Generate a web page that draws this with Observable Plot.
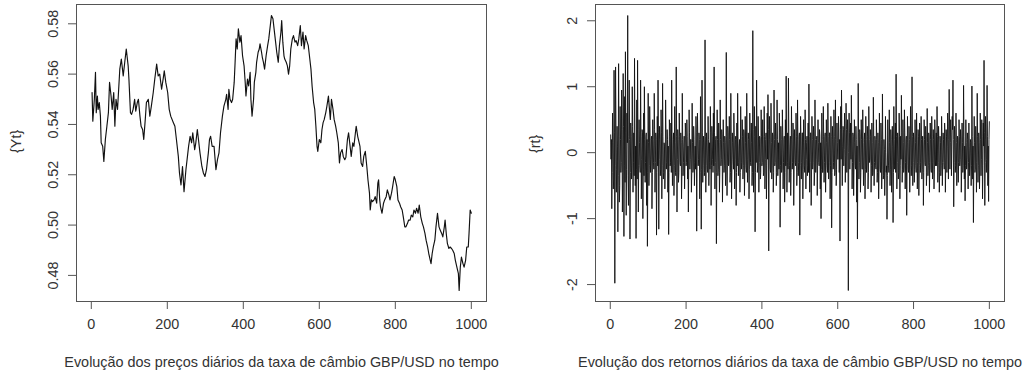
<!DOCTYPE html>
<html><head><meta charset="utf-8">
<script src="https://cdn.jsdelivr.net/npm/d3@7"></script>
<script src="https://cdn.jsdelivr.net/npm/@observablehq/plot@0.6"></script>
<style>
body{margin:0;background:#fff;}
#wrap{display:flex;width:1027px;height:376px;overflow:hidden;}
#wrap svg{display:block;}
</style></head><body><div id="wrap"></div>
<script>
const priceDays = [2,4,8,11,13,16,18,21,24,26,30,33,37,41,45,48,52,55,59,62,65,69,72,75,79,84,88,92,97,99,103,106,110,114,117,121,124,128,131,135,138,142,145,150,154,158,163,167,172,176,180,185,189,192,196,201,205,209,216,220,224,229,232,236,240,244,249,253,256,260,264,267,272,275,279,282,286,291,295,299,303,308,311,314,318,323,328,
332,336,340,345,349,354,356,360,362,365,369,372,376,378,381,384,387,391,394,398,402,405,407,411,414,418,420,423,427,429,433,435,439,442,444,448,450,453,456,460,464,467,471,474,478,481,485,488,492,495,499,501,504,507,509,513,516,519,522,525,529,532,536,539,543,546,550,553,557,560,564,567,571,574,578,581,585,588,591,594,596,600,604,607,610,613,617,620,624,626,629,632,636,639,643,646,650,653,656,660,663,667,670,
674,677,681,684,688,691,695,697,701,703,707,710,714,717,721,725,728,732,734,737,740,744,747,751,754,756,759,761,765,769,772,776,779,783,786,790,793,797,800,804,807,811,814,818,821,825,828,832,835,839,842,846,849,853,856,860,863,867,871,874,878,881,885,888,892,894,897,900,904,907,911,915,918,922,925,929,931,934,937,941,944,948,951,955,958,962,966,968,971,974,978,981,985,988,992,994,997,1000];
const priceValues = [0.5527,0.5413,0.55,0.5607,0.5447,0.5513,0.546,0.5487,0.5433,0.5327,0.5313,0.5253,0.534,0.5393,0.5447,0.5567,0.5513,0.546,0.5527,0.5393,0.55,0.546,0.554,0.562,0.566,0.5593,0.5647,0.57,0.5633,0.558,0.5447,0.544,0.546,0.55,0.5453,0.5487,0.55,0.5433,0.5393,0.538,0.534,0.542,0.5487,0.55,0.5433,0.5473,0.5527,0.558,0.564,0.5593,0.56,0.554,0.558,0.5613,0.5567,0.5527,0.546,0.5433,0.5407,0.5393,0.534,0.5273,0.5207,0.516,0.5233,0.5133,0.522,0.5273,0.5313,0.5353,0.5327,0.5367,0.53,0.5327,0.538,0.534,0.5287,0.5233,0.5207,0.5193,0.522,0.5287,0.534,0.5353,0.5313,0.5313,0.522,
0.526,0.5287,0.5367,0.5433,0.5473,0.55,0.552,0.546,0.554,0.55,0.5487,0.55,0.5567,0.5633,0.574,0.57,0.578,0.5727,0.5753,0.5673,0.5633,0.5567,0.5513,0.558,0.5553,0.5607,0.55,0.5433,0.55,0.5567,0.5607,0.5647,0.5687,0.57,0.572,0.5687,0.5667,0.5647,0.562,0.5673,0.5713,0.574,0.5793,0.5833,0.582,0.578,0.5727,0.5687,0.5647,0.5713,0.5767,0.5813,0.5727,0.5673,0.566,0.5647,0.5633,0.56,0.5633,0.57,0.574,0.5753,0.5727,0.5733,0.5713,0.574,0.5793,0.5713,0.5767,0.57,0.5753,0.5733,0.5713,0.5673,0.562,0.5553,0.5487,0.546,0.5393,0.5313,0.5293,0.534,0.5327,0.538,0.5407,0.542,0.5447,0.5473,0.5513,0.5473,0.542,0.55,0.546,0.542,0.5393,0.5367,0.5327,0.5247,0.5287,0.53,0.5273,0.526,0.527,
0.534,0.5367,0.5313,0.5273,0.5327,0.5313,0.5367,0.5393,0.5353,0.534,0.5313,0.5247,0.5233,0.5273,0.5293,0.5233,0.518,0.5127,0.506,0.51,0.5093,0.51,0.5113,0.5087,0.5167,0.518,0.51,0.5073,0.5047,0.5087,0.51,0.5113,0.514,0.512,0.51,0.5127,0.5153,0.5193,0.518,0.5153,0.51,0.5087,0.5073,0.506,0.5033,0.4993,0.4993,0.5007,0.502,0.502,0.504,0.5033,0.506,0.5047,0.5067,0.5047,0.508,0.5033,0.5007,0.4993,0.4967,0.494,0.4913,0.4887,0.486,0.4847,0.4887,0.4913,0.494,0.4993,0.5047,0.4993,0.498,0.4967,0.4953,0.4993,0.502,0.4967,0.4927,0.4907,0.4913,0.4907,0.49,0.4887,0.486,0.4833,0.4807,0.474,0.4833,0.4873,0.4847,0.4833,0.486,0.4913,0.4913,0.4967,0.506,0.5047];

// Daily returns {rt} (one value per day)
const returnValues = [
0.27,-0.1,0.2,-0.85,-0.3,0.6,0.15,-0.55,-0.4,1.25,0.3,-1.98,-0.2,1.3,0.45,-0.6,-0.25,0.4,0.1,-1.2,-0.35,1.35,0.25,-0.75,-0.5,0.7,0.2,-0.3,-0.15,0.95,0.35,-0.9,-0.3,1.2,0.4,-1.27,-0.2,0.85,-0.45,1.53,0.3,-0.95,-0.25,0.6,0.15,2.08,-0.35,-0.8,0.25,1.1,
0.2,-1.31,-0.3,0.45,0.25,-0.4,-0.2,1.0,0.4,-0.6,-0.15,0.3,-0.35,1.43,0.3,-0.5,0.1,-1.3,-0.25,0.8,-0.4,1.4,0.35,-0.9,-0.2,0.5,0.15,-0.2,-0.3,1.1,0.25,-0.7,-0.1,0.35,0.3,-1.0,-0.25,0.6,-0.35,1.0,0.2,-0.45,-0.15,0.25,0.3,-0.8,0.2,-1.42,-0.3,0.9,
0.15,-0.5,-0.2,0.7,0.3,-0.3,-0.1,0.2,0.25,-0.85,-0.3,0.5,0.2,-0.15,-0.25,0.9,0.35,-0.6,-0.15,0.3,0.2,-1.25,-0.3,0.55,-0.2,1.1,0.3,-1.16,-0.1,0.4,0.2,-0.35,-0.25,0.65,0.3,-0.7,-0.2,1.05,0.25,-0.4,-0.3,0.15,0.1,-0.55,-0.25,0.8,0.3,-0.25,-0.15,0.35,
0.2,-0.6,0.1,-1.24,-0.3,0.5,0.25,-0.2,-0.15,0.45,-0.3,1.1,0.2,-0.5,-0.25,0.2,0.3,-0.65,-0.2,0.7,0.15,-0.3,-0.35,1.3,0.25,-0.9,-0.1,0.35,0.2,-0.45,-0.3,0.6,0.25,-0.15,-0.2,0.3,0.15,-0.7,-0.3,0.9,0.2,-0.35,-0.15,0.1,0.25,-0.55,-0.2,0.45,0.3,-0.2,
-0.15,0.5,0.25,-0.4,0.1,-0.9,-0.2,0.65,0.3,-0.25,-0.1,0.2,0.2,-0.6,-0.3,0.75,0.15,-0.3,-0.25,0.4,0.2,-0.5,-0.15,0.1,-0.25,0.55,0.3,-1.19,-0.2,0.6,0.25,-0.2,-0.1,0.3,0.2,-0.7,-0.3,0.85,0.2,-1.16,-0.25,1.1,0.3,-0.45,-0.2,0.25,0.15,-0.35,-0.3,1.71,
0.25,-0.6,-0.2,0.3,0.15,-0.25,-0.3,0.55,0.2,-0.5,-0.15,0.15,-0.25,0.7,0.3,-0.8,-0.2,0.4,0.25,-0.1,-0.3,0.6,-0.2,1.3,0.3,-0.55,-0.15,0.2,0.25,-1.38,-0.3,0.65,0.2,-0.35,-0.25,0.45,0.15,-0.6,-0.3,0.8,0.2,-0.2,-0.1,0.35,0.25,-0.75,-0.2,0.5,0.15,-0.3,
-0.2,0.25,0.15,-0.5,-0.3,1.52,0.25,-0.65,-0.2,0.4,0.3,-0.2,-0.15,0.55,0.2,-0.45,-0.3,0.9,0.25,-0.7,-0.2,0.3,0.15,-0.1,-0.25,0.6,0.3,-0.55,-0.1,0.2,0.25,-0.8,-0.3,0.45,-0.2,0.9,0.25,-0.35,-0.15,0.1,0.2,-0.6,-0.3,0.7,0.2,-0.25,-0.15,0.5,0.25,-0.4,
-0.2,0.35,0.3,-0.65,-0.25,0.55,0.15,-0.2,-0.3,0.9,0.25,-0.45,-0.1,0.3,0.2,-0.7,-0.25,0.6,0.3,-0.15,-0.2,0.45,0.15,-0.5,-0.3,1.85,0.35,-0.6,-0.2,0.7,0.25,-1.2,-0.3,0.4,-0.15,1.1,0.3,-0.3,-0.2,0.55,0.25,-0.6,-0.15,0.25,0.2,-0.4,-0.3,0.65,0.25,-0.2,
-0.15,0.5,0.2,-0.35,-0.3,0.7,0.25,-0.55,-0.1,0.2,0.3,-0.7,-0.2,0.6,-0.1,0.88,0.35,-1.49,-0.25,0.55,0.2,-0.25,-0.3,0.75,0.15,-0.4,-0.2,0.3,0.25,-0.6,-0.3,0.95,0.2,-0.2,-0.15,0.45,0.25,-0.5,-0.3,0.8,0.2,-0.35,-0.1,0.15,-0.25,0.6,0.3,-1.13,-0.2,0.4,
0.2,-0.3,-0.25,0.65,0.3,-0.55,-0.15,0.2,0.25,-0.75,-0.3,0.5,-0.2,1.16,0.3,-0.6,-0.15,0.3,-0.25,1.13,0.3,-0.45,-0.2,0.1,0.25,-0.65,-0.3,0.7,0.2,-0.25,-0.15,0.45,0.3,-0.8,-0.25,0.35,0.1,-0.15,-0.2,0.6,0.25,-0.5,-0.3,0.8,0.2,-0.35,-0.15,0.25,0.3,-1.25,
-0.2,0.55,0.25,-0.4,-0.15,0.3,0.3,-0.7,-0.25,0.5,0.15,-0.2,-0.3,0.65,0.2,-0.55,-0.1,0.15,0.25,-0.35,-0.2,0.45,-0.3,1.04,0.25,-0.6,-0.15,0.3,0.3,-0.8,-0.25,0.55,0.2,-0.25,-0.15,0.4,0.25,-0.5,-0.3,0.8,0.2,-0.3,-0.1,0.2,0.25,-0.65,-0.2,0.5,0.15,-0.15,
-0.2,0.35,0.25,-0.55,0.15,-1.0,-0.25,0.6,0.2,-0.3,-0.3,0.7,0.25,-0.45,-0.15,0.25,0.3,-0.6,-0.2,0.5,0.15,-0.2,-0.3,0.75,0.25,-0.4,-0.15,0.3,0.3,-0.7,-0.2,0.55,0.25,-1.14,-0.3,0.4,0.2,-0.25,-0.15,0.65,0.25,-0.35,-0.3,0.8,0.2,-0.5,-0.25,0.45,0.15,-0.1,
-0.1,0.55,0.3,-0.3,0.2,-1.34,0.35,0.7,-0.1,0.95,0.3,-0.5,0.1,0.4,0.35,-0.2,0.05,0.6,0.3,-0.45,-0.05,0.75,0.35,-0.3,0.1,0.5,0.3,-2.09,0.0,0.6,0.3,-0.25,0.1,0.45,-0.1,0.87,0.3,-0.55,-0.15,0.3,0.25,-0.65,-0.2,0.5,0.15,-0.2,-0.25,0.4,0.2,-0.75,
0.1,-1.31,-0.2,1.05,0.3,-0.4,-0.15,0.35,0.25,-0.6,-0.3,0.5,0.2,-0.25,-0.25,0.65,0.15,-0.5,-0.2,0.2,0.3,-0.7,-0.25,0.55,0.2,-0.3,-0.15,0.4,0.25,-0.55,-0.3,0.7,0.2,-0.15,-0.1,0.35,0.25,-0.6,-0.2,0.45,0.15,-0.35,-0.3,0.84,0.25,-0.5,-0.15,0.25,0.2,-0.2,
-0.25,0.5,0.2,-0.45,-0.3,0.3,0.15,-0.7,-0.25,0.6,0.1,-0.25,-0.3,0.45,0.2,-0.55,-0.25,0.89,0.1,-0.4,-0.35,0.2,0.05,-0.65,-0.3,0.55,0.0,-0.3,-0.2,-1.01,-0.35,0.5,0.1,-0.2,-0.3,0.65,0.15,-0.5,-0.25,0.35,0.2,-0.6,-0.2,0.4,0.1,-1.06,-0.3,0.7,0.2,-0.25,
-0.2,0.45,-0.3,1.19,0.25,-0.55,-0.15,0.3,0.2,-0.4,-0.3,0.6,0.25,-0.7,-0.2,0.25,-0.1,0.87,0.3,-0.45,-0.25,0.5,0.15,-0.3,-0.2,0.65,0.3,-0.55,-0.15,0.2,0.25,-0.95,-0.2,0.55,0.15,-0.25,-0.3,0.4,0.2,-0.6,-0.25,0.7,0.3,-0.35,-0.2,1.15,0.25,-0.5,-0.15,0.3,
0.2,-0.45,-0.25,0.5,0.15,-0.2,-0.3,0.6,0.2,-0.55,-0.15,0.35,0.25,-0.65,-0.2,0.45,0.3,-0.3,-0.15,0.55,0.2,-0.4,-0.25,0.25,0.1,-0.8,-0.3,0.5,0.2,-0.15,-0.2,0.4,0.25,-0.5,-0.3,0.67,0.15,-0.35,-0.2,0.3,0.25,-0.6,-0.15,0.45,0.2,-0.25,-0.3,0.55,0.25,-0.4,
-0.15,0.35,0.2,-0.55,-0.25,0.5,0.3,-0.2,-0.1,0.3,-0.2,0.7,0.25,-0.45,-0.15,0.4,0.2,-0.6,-0.3,0.25,0.15,-0.35,-0.2,0.55,0.25,-0.5,-0.15,0.3,0.2,-0.15,-0.25,0.45,0.3,-0.6,-0.2,0.35,0.25,-0.3,0.1,0.6,0.4,-0.4,0.2,0.96,0.45,-0.25,0.15,0.5,0.3,-0.35,
0.1,0.55,0.35,1.1,0.2,-0.82,-0.15,0.4,0.25,-0.3,-0.2,0.6,0.15,-0.5,-0.25,0.25,0.2,-0.45,-0.15,0.5,0.25,-0.2,-0.1,0.35,0.2,-0.6,-0.25,0.45,0.15,-0.3,-0.2,1.02,0.25,-0.4,0.1,-0.73,-0.2,0.5,0.15,-0.25,-0.1,0.3,0.2,-0.55,-0.15,0.45,0.1,-0.35,-0.2,0.2,
0.15,-0.5,-0.2,1.01,0.25,-0.4,0.1,-1.06,-0.2,0.55,0.15,-0.3,-0.25,0.4,0.2,-0.6,-0.15,0.9,0.25,-0.45,-0.2,0.3,0.15,-0.55,-0.25,0.6,0.2,-0.35,-0.1,0.5,0.25,-0.7,-0.2,0.45,0.1,1.4,0.3,-0.8,-0.15,0.55,0.2,-0.3,-0.1,1.02,0.25,-0.5,0.1,-0.74,0.2,0.47];

const xTicks = [0, 200, 400, 600, 800, 1000];
const priceTicks = [0.48, 0.50, 0.52, 0.54, 0.56, 0.58];
const returnTicks = [-2, -1, 0, 1, 2];
const priceYLabel = "{Yt}";
const returnYLabel = "{rt}";
const priceXLabel = "Evolução dos preços diários da taxa de câmbio GBP/USD no tempo";
const returnXLabel = "Evolução dos retornos diários da taxa de câmbio GBP/USD no tempo";

const priceData = priceDays.map((d, i) => ({day: d, value: priceValues[i]}));
const returnData = returnValues.map((v, i) => ({day: i + 1, value: v}));

const FONT = "'Liberation Sans', Arial, Helvetica, sans-serif";
const FS = 14.4;
const xDomain = [1 - 0.04 * 999, 1000 + 0.04 * 999];
function padded(vals) {
  const [lo, hi] = d3.extent(vals);
  const p = (hi - lo) * 0.04;
  return [lo - p, hi + p];
}

function panel({width, marginLeft, marginRight, data, yDomain, yTicks, yFormat, yLabel, xLabel, lineWidth}) {
  return Plot.plot({
    width, height: 376,
    marginTop: 4, marginBottom: 75, marginLeft, marginRight,
    style: {fontFamily: FONT, fontSize: FS + "px", color: "#333", background: "#fff", overflow: "visible"},
    x: {domain: xDomain},
    y: {domain: yDomain},
    marks: [
      Plot.line(data, {x: "day", y: "value", stroke: "#111", strokeWidth: lineWidth}),
      Plot.frame({stroke: "#555"}),
      Plot.axisX(xTicks, {anchor: "bottom", tickSize: 8, tickPadding: 9, tickFormat: d => String(d), stroke: "#555", fill: "#333", fontSize: FS, label: null}),
      Plot.axisY(yTicks, {anchor: "left", tickSize: 8, tickRotate: -90, tickPadding: 11, tickFormat: yFormat, stroke: "#555", fill: "#333", fontSize: FS, label: null}),
      Plot.text([yLabel], {frameAnchor: "left", dx: -60, rotate: -90, text: d => d, fill: "#333", fontSize: FS}),
      Plot.text([xLabel], {frameAnchor: "bottom", dy: 65, text: d => d, fill: "#333", fontSize: FS})
    ]
  });
}

const wrap = document.getElementById("wrap");
wrap.appendChild(panel({
  width: 520, marginLeft: 76, marginRight: 34, data: priceData, lineWidth: 1.15,
  yDomain: padded(priceValues), yTicks: priceTicks, yFormat: d3.format(".2f"),
  yLabel: priceYLabel, xLabel: priceXLabel
}));
wrap.appendChild(panel({
  width: 507, marginLeft: 75, marginRight: 23, data: returnData, lineWidth: 0.9,
  yDomain: padded(returnValues), yTicks: returnTicks, yFormat: d => String(d).replace("\u2212", "-"),
  yLabel: returnYLabel, xLabel: returnXLabel
}));
</script></body></html>
